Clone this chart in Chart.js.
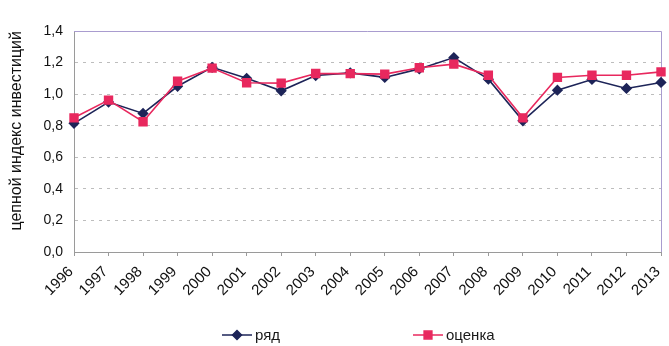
<!DOCTYPE html>
<html>
<head>
<meta charset="utf-8">
<script src="https://cdn.jsdelivr.net/npm/chart.js@4/dist/chart.umd.min.js"></script>
<style>
  html, body { margin: 0; padding: 0; background: #fff; }
  #wrap { width: 669px; height: 346px; position: relative; }
</style>
</head>
<body>
<div id="wrap"><canvas id="c"></canvas></div>
<script>
// Годы наблюдений
const years = ['1996','1997','1998','1999','2000','2001','2002','2003','2004',
               '2005','2006','2007','2008','2009','2010','2011','2012','2013'];

// Фактический ряд цепного индекса инвестиций
const ryad = [0.815, 0.950, 0.878, 1.050, 1.170, 1.100, 1.021, 1.118, 1.135,
              1.106, 1.160, 1.232, 1.095, 0.831, 1.025, 1.093, 1.036, 1.074];

// Модельная оценка
const otsenka = [0.850, 0.962, 0.825, 1.082, 1.165, 1.072, 1.070, 1.131, 1.130,
                 1.127, 1.167, 1.190, 1.120, 0.850, 1.106, 1.120, 1.120, 1.141];

// Подписи шкалы Y
const yMin = 0, yMax = 1.4, yStep = 0.2;

const NAVY = '#1d2458';
const RED = '#e8285e';
const FONT = "'Liberation Sans', Arial, sans-serif";

// Рамка области построения: верх и правый край
const frame = {
  id: 'frame',
  beforeDatasetsDraw(chart) {
    const { ctx, chartArea: a } = chart;
    ctx.save();
    ctx.strokeStyle = '#a99ccf';
    ctx.lineWidth = 1;
    ctx.beginPath();
    ctx.moveTo(a.left, a.top + 0.5);
    ctx.lineTo(a.right + 0.5, a.top + 0.5);
    ctx.lineTo(a.right + 0.5, a.bottom);
    ctx.stroke();
    ctx.restore();
  }
};

// Легенда: линия с маркером и подпись
const lineLegend = {
  id: 'lineLegend',
  afterDraw(chart, args, opts) {
    const { ctx } = chart;
    const y = opts.y;
    ctx.save();
    ctx.font = '15px ' + FONT;
    ctx.textBaseline = 'middle';
    opts.items.forEach((item) => {
      const ds = chart.data.datasets[item.index];
      ctx.strokeStyle = ds.borderColor;
      ctx.lineWidth = 1.5;
      ctx.beginPath();
      ctx.moveTo(item.x, y);
      ctx.lineTo(item.x + 30, y);
      ctx.stroke();
      ctx.fillStyle = ds.pointBackgroundColor;
      ctx.strokeStyle = ds.pointBorderColor;
      Chart.helpers.drawPoint(ctx, {
        pointStyle: ds.pointStyle,
        radius: ds.pointRadius,
        borderWidth: 1,
        rotation: 0
      }, item.x + 15, y);
      ctx.fillStyle = '#1a1a1a';
      ctx.fillText(ds.label, item.x + 33, y + 1);
    });
    ctx.restore();
  }
};

new Chart(document.getElementById('c'), {
  type: 'line',
  data: {
    labels: years,
    datasets: [
      {
        label: 'ряд',
        data: ryad,
        borderColor: NAVY,
        backgroundColor: NAVY,
        pointBackgroundColor: NAVY,
        pointBorderColor: NAVY,
        pointStyle: 'rectRot',
        pointRadius: 4.5,
        borderWidth: 1.6,
        tension: 0,
        order: 1
      },
      {
        label: 'оценка',
        data: otsenka,
        borderColor: RED,
        backgroundColor: RED,
        pointBackgroundColor: RED,
        pointBorderColor: RED,
        pointStyle: 'rect',
        pointRadius: 5.5,
        borderWidth: 1.6,
        tension: 0,
        order: 0
      }
    ]
  },
  options: {
    responsive: true,
    maintainAspectRatio: false,
    animation: false,
    layout: { padding: { top: 31, right: 8, left: 0, bottom: 0 } },
    plugins: {
      legend: { display: false },
      tooltip: { enabled: false },
      lineLegend: {
        y: 335,
        items: [ { index: 0, x: 222 }, { index: 1, x: 413 } ]
      }
    },
    scales: {
      x: {
        type: 'category',
        offset: false,
        grid: {
          drawOnChartArea: false,
          drawTicks: true,
          tickLength: 4,
          color: '#9a9a9a'
        },
        border: { color: '#9a9a9a', width: 1 },
        ticks: {
          autoSkip: false,
          maxRotation: 45,
          minRotation: 45,
          padding: 7,
          labelOffset: -3,
          color: '#111',
          font: { family: FONT, size: 15 }
        },
        afterFit(scale) {
          scale.height = 94;
          scale.paddingLeft = 0;
          scale.paddingRight = 0;
        }
      },
      y: {
        min: yMin,
        max: yMax,
        grid: {
          drawTicks: false,
          color: (c) => (c.tick && (c.tick.value === yMin || Math.abs(c.tick.value - yMax) < 1e-9)) ? 'rgba(0,0,0,0)' : '#bdbdbd',
          lineWidth: 1
        },
        border: { color: '#9a9a9a', width: 1, dash: [3, 5] },
        ticks: {
          stepSize: yStep,
          padding: 11,
          color: '#111',
          font: { family: FONT, size: 14 },
          callback: (v) => Number(v).toFixed(1).replace('.', ',')
        },
        title: {
          display: true,
          text: 'цепной индекс инвестиций',
          align: 'end',
          color: '#111',
          font: { family: FONT, size: 16 },
          padding: { top: 7, bottom: 0 }
        },
        afterFit(scale) { scale.width = 74; }
      }
    }
  },
  plugins: [frame, lineLegend]
});
</script>
</body>
</html>
